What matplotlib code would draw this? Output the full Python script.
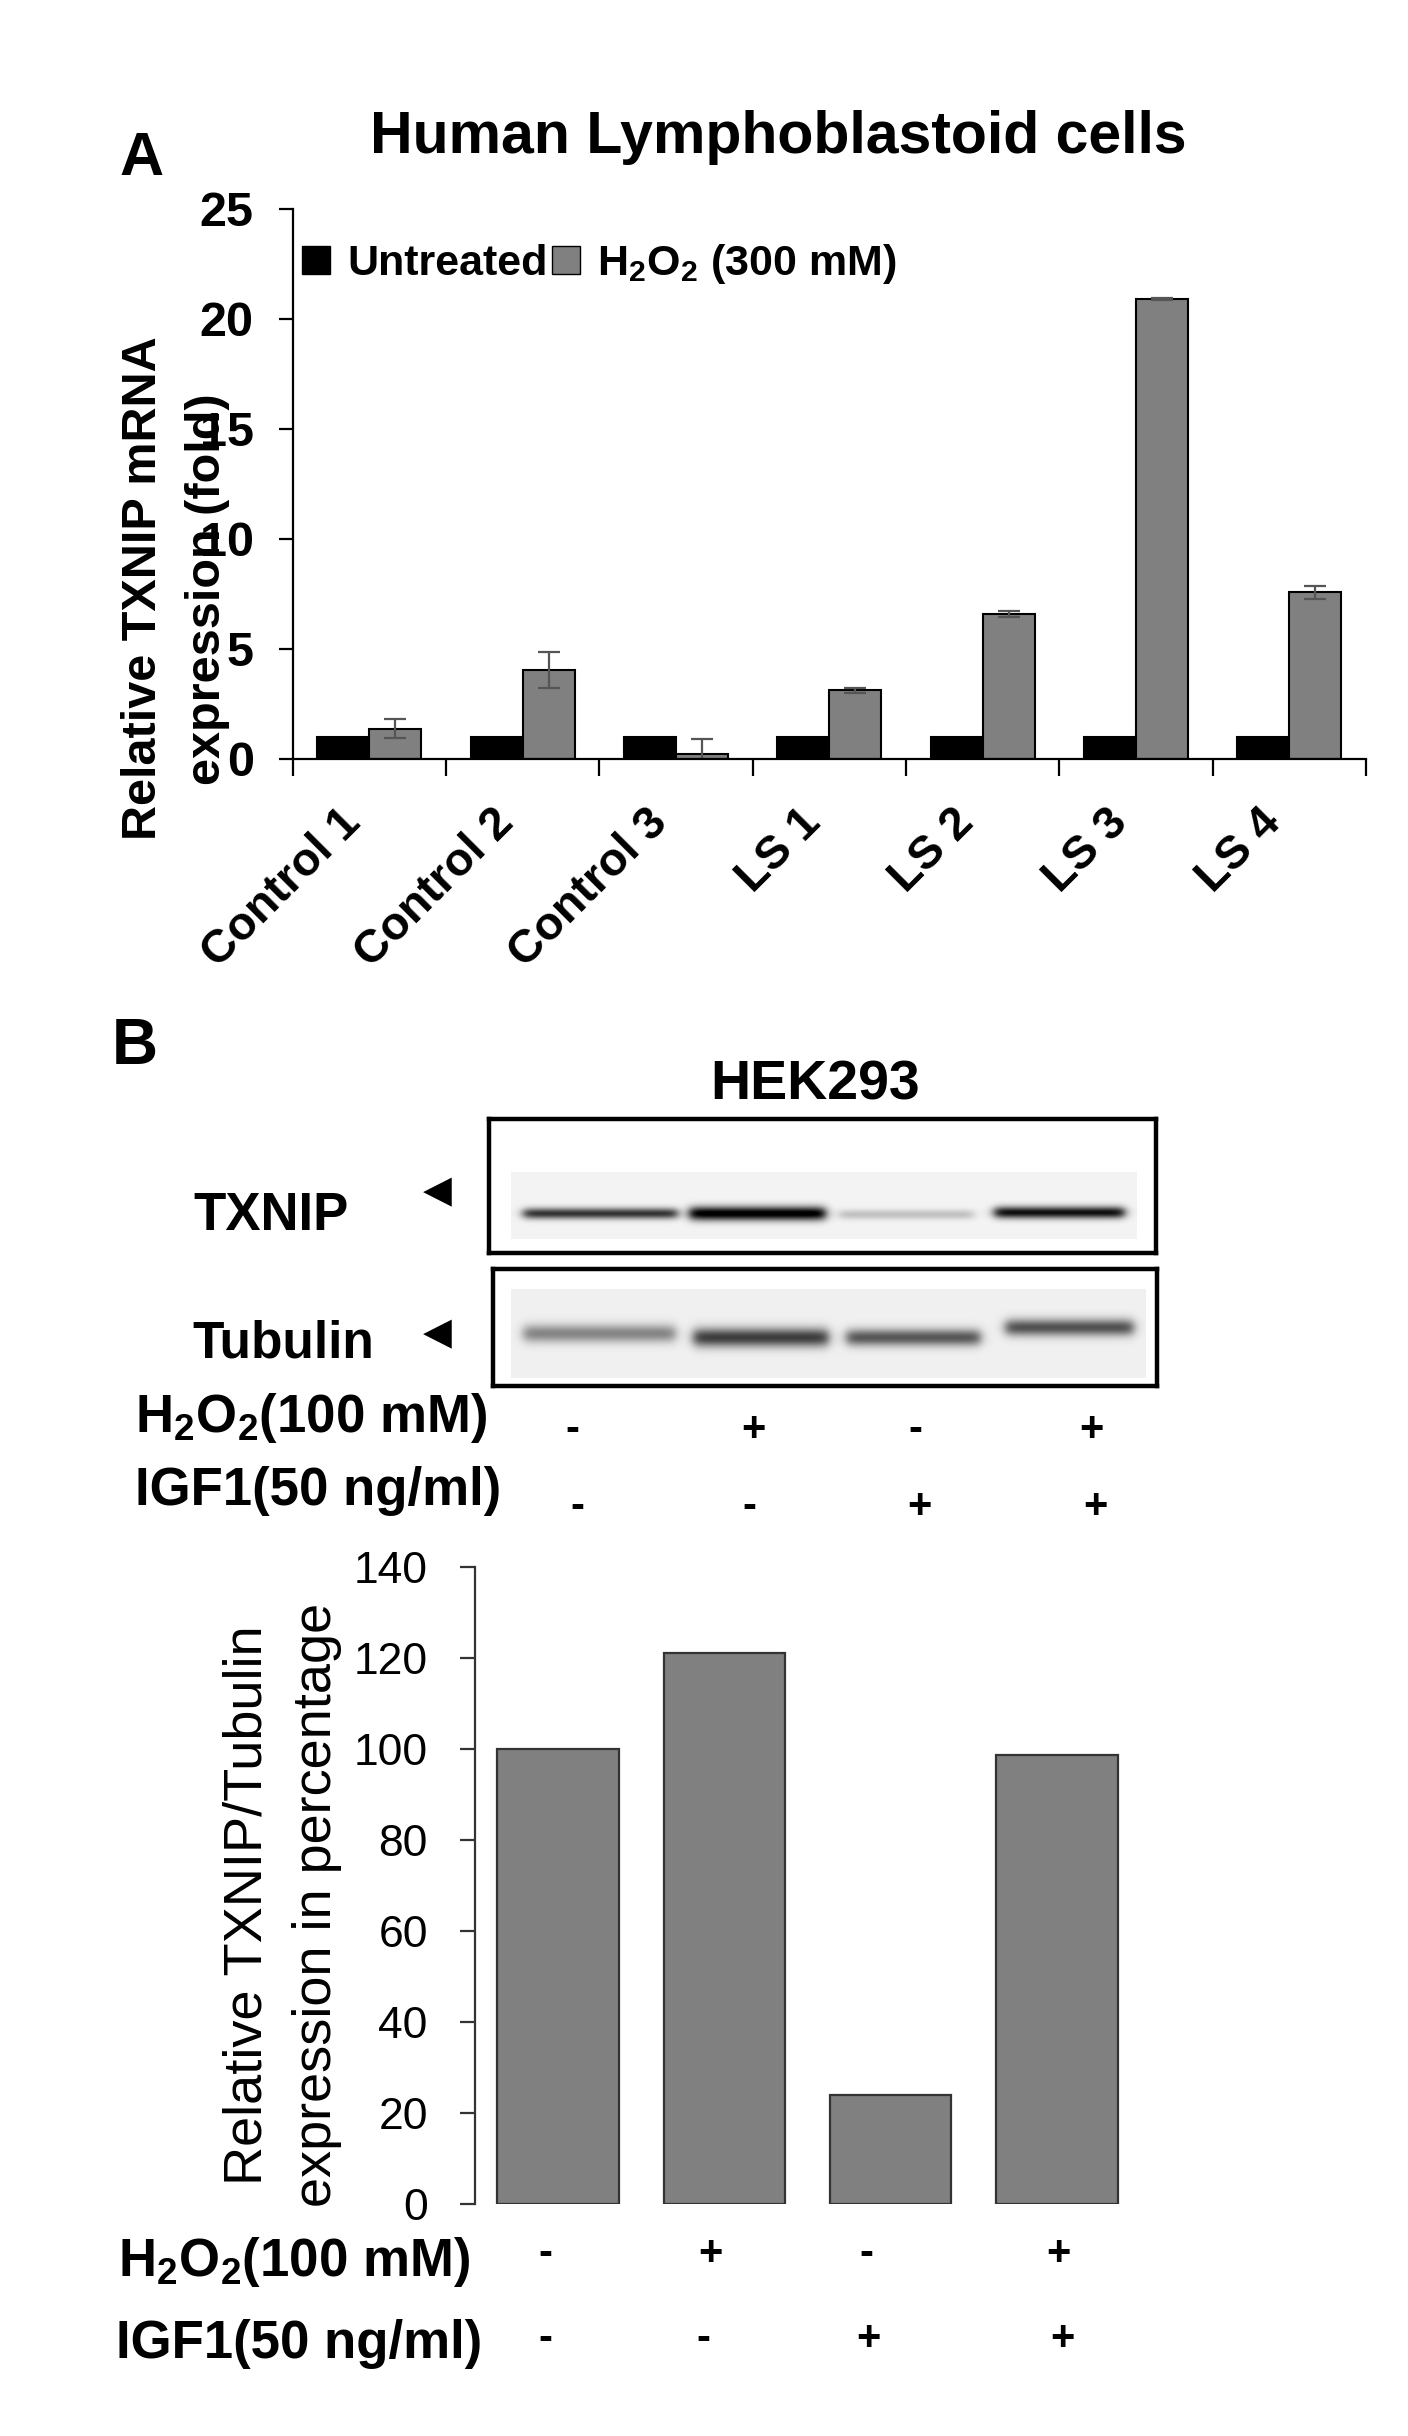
import numpy as np
import matplotlib
matplotlib.use("Agg")
import matplotlib.pyplot as plt
from matplotlib.patches import Patch
from matplotlib.transforms import ScaledTranslation

plt.rcParams['font.family'] = ['Liberation Sans', 'DejaVu Sans']
plt.rcParams['mathtext.fontset'] = 'custom'
plt.rcParams['mathtext.rm'] = 'Liberation Sans'
plt.rcParams['mathtext.bf'] = 'Liberation Sans:bold'
plt.rcParams['mathtext.it'] = 'Liberation Sans:italic'

# ---- panel A data ----
groups = ['Control 1', 'Control 2', 'Control 3', 'LS 1', 'LS 2', 'LS 3', 'LS 4']
untreated = [1, 1, 1, 1, 1, 1, 1]
h2o2 = [1.37, 4.05, 0.23, 3.12, 6.6, 20.9, 7.58]
h2o2_err = [0.43, 0.8, 0.7, 0.12, 0.15, 0.05, 0.3]

# ---- panel B data ----
h2o2_marks = ['-', '+', '-', '+']
igf1_marks = ['-', '-', '+', '+']
ratio_pct = [100, 121, 24, 98.6]
txnip_band = [0.75, 1.0, 0.2, 0.9]
tubulin_band = [0.42, 0.7, 0.6, 0.62]

W, H = 1408, 2436


def fx(x):
    return x / W


def fy(y):
    return 1 - y / H


fig = plt.figure(figsize=(W / 100, H / 100), dpi=100)

BOLD = dict(fontweight='bold')
H2O2_100 = r'$\mathbf{H_2O_2}$(100 mM)'
IGF1_50 = 'IGF1(50 ng/ml)'

# ================= panel A =================
ax = fig.add_axes([fx(292.7), fy(759), (1366 - 292.7) / W, 550 / H])
x = np.arange(len(groups)) + 0.5
ax.bar(x - 0.17, untreated, 0.34, color='black', edgecolor='black', lw=1.5)
ax.bar(x + 0.17, h2o2, 0.34, color='#808080', edgecolor='black', lw=1.5)
ax.errorbar(x + 0.17, h2o2, yerr=h2o2_err, fmt='none', ecolor='#555555',
            elinewidth=1.6, capsize=8, capthick=1.6)
ax.set_xlim(0, len(groups))
ax.set_ylim(0, 25)
ax.set_yticks(np.arange(0, 26, 5))
for s in ['top', 'right']:
    ax.spines[s].set_visible(False)
for s in ['left', 'bottom']:
    ax.spines[s].set_linewidth(1.6)
ax.set_xticks(np.arange(len(groups) + 1))
ax.set_xticklabels([])
ax.set_xticks(x, minor=True)
ax.set_xticklabels(groups, minor=True, rotation=45, ha='right', va='top',
                   fontsize=33.5, fontweight='bold')
shift = ScaledTranslation(0.36, 0, fig.dpi_scale_trans)
for t in ax.get_xticklabels(minor=True):
    t.set_transform(t.get_transform() + shift)
ax.tick_params(axis='x', which='major', length=12, width=1.6, direction='out')
ax.tick_params(axis='x', which='minor', length=0, pad=30)
ax.tick_params(axis='y', length=10, width=1.6, direction='out', pad=18,
               labelsize=35)
for t in ax.get_yticklabels():
    t.set_fontweight('bold')

handles = [Patch(fc='black', ec='black'), Patch(fc='#808080', ec='black')]
ax.legend(handles, ['Untreated', r'$\mathbf{H_2O_2}$ (300 mM)'], ncol=2,
          loc='upper left', bbox_to_anchor=(0.0087, 0.94), frameon=False,
          prop=dict(size=31, weight='bold'), handlelength=0.65, handleheight=0.65,
          handletextpad=0.4, columnspacing=0.1, borderpad=0, borderaxespad=0)

fig.text(fx(119), fy(175), 'A', fontsize=44, ha='left', va='baseline', **BOLD)
fig.text(fx(778), fy(153), 'Human Lymphoblastoid cells', fontsize=42.5,
         ha='center', va='baseline', **BOLD)
fig.text(fx(143), fy(588), 'Relative TXNIP mRNA', rotation=90, fontsize=35,
         ha='center', va='center', **BOLD)
fig.text(fx(208), fy(589), 'expression (fold)', rotation=90, fontsize=35,
         ha='center', va='center', **BOLD)

# ================= panel B: western blot =================
fig.text(fx(112), fy(1064), 'B', fontsize=46, ha='left', va='baseline', **BOLD)
fig.text(fx(815), fy(1100), 'HEK293', fontsize=40, ha='center', va='baseline', **BOLD)


def blot(box, lanes, band_y, band, sig, patch_y, patch_val):
    x0, y0, x1, y1 = box
    nx, ny = int(x1 - x0), int(y1 - y0)
    bax = fig.add_axes([fx(x0), fy(y1), (x1 - x0) / W, (y1 - y0) / H])
    xx, yy = np.meshgrid(np.arange(nx), np.arange(ny))
    img = np.ones((ny, nx))
    for (la, lb) in lanes:
        inside = (xx >= la - 12) & (xx <= lb + 12) & (yy >= patch_y[0]) & (yy <= patch_y[1])
        img[inside] = patch_val
    dark = np.zeros((ny, nx))
    for (la, lb), by, b, sg in zip(lanes, band_y, band, sig):
        hprof = 0.25 * (1 + np.tanh((xx - la) / 6)) * (1 + np.tanh((lb - xx) / 6))
        dark += b * hprof * np.exp(-((yy - by) / sg) ** 2)
    img = np.clip(img - dark, 0, 1)
    bax.imshow(img, cmap='gray', vmin=0, vmax=1, aspect='auto',
               extent=(0, nx, ny, 0), interpolation='bilinear')
    bax.set_xticks([])
    bax.set_yticks([])
    for s in bax.spines.values():
        s.set_linewidth(3.2)
    return bax


blot((489, 1119, 1156, 1253),
     [(34, 188), (200, 336), (350, 484), (505, 635)],
     [94, 94, 95, 93], txnip_band, [5.5, 7, 5, 6], (53, 119), 0.955)
blot((493, 1269, 1157, 1386),
     [(30, 182), (200, 335), (353, 487), (512, 640)],
     [64, 68, 68, 58], tubulin_band, [9, 9.5, 8.5, 8.5], (20, 108), 0.94)

fig.text(fx(193), fy(1230), 'TXNIP', fontsize=38, ha='left', va='baseline', **BOLD)
fig.text(fx(192), fy(1358), 'Tubulin', fontsize=37, ha='left', va='baseline', **BOLD)
for yc in [1192, 1334]:
    fig.text(fx(437), fy(yc), '\u25C0', fontsize=27, ha='center', va='center',
             family='DejaVu Sans')

fig.text(fx(135), fy(1432), H2O2_100, fontsize=38, ha='left', va='baseline', **BOLD)
fig.text(fx(135), fy(1505), IGF1_50, fontsize=38, ha='left', va='baseline', **BOLD)
for xm, m in zip([572, 753, 915, 1091], h2o2_marks):
    fig.text(fx(xm), fy(1430), m, fontsize=30, ha='center', va='center', **BOLD)
for xm, m in zip([577, 749, 919, 1095], igf1_marks):
    fig.text(fx(xm), fy(1507), m, fontsize=30, ha='center', va='center', **BOLD)

# ================= panel B: quantification =================
ax2 = fig.add_axes([fx(475), fy(2204), 665 / W, (2204 - 1567) / H])
ax2.bar(np.arange(len(ratio_pct)), ratio_pct, 0.73, color='#808080',
        edgecolor='#333333', lw=1.6)
ax2.set_xlim(-0.5, 3.5)
ax2.set_ylim(0, 140)
ax2.set_yticks(np.arange(0, 141, 20))
ax2.set_xticks([])
for s in ['top', 'right', 'bottom']:
    ax2.spines[s].set_visible(False)
ax2.spines['left'].set_linewidth(1.6)
ax2.spines['left'].set_color('#333333')
ax2.tick_params(axis='y', length=11, width=1.6, color='#333333', pad=23,
                labelsize=32)

fig.text(fx(247), fy(1905), 'Relative TXNIP/Tubulin', rotation=90, fontsize=39,
         ha='center', va='center')
fig.text(fx(317), fy(1905), 'expression in percentage', rotation=90, fontsize=39,
         ha='center', va='center')

fig.text(fx(118), fy(2276), H2O2_100, fontsize=38, ha='left', va='baseline', **BOLD)
fig.text(fx(116), fy(2358), IGF1_50, fontsize=38, ha='left', va='baseline', **BOLD)
for xm, m in zip([545, 710, 866, 1058], h2o2_marks):
    fig.text(fx(xm), fy(2254), m, fontsize=30, ha='center', va='center', **BOLD)
for xm, m in zip([545, 703, 868, 1062], igf1_marks):
    fig.text(fx(xm), fy(2339), m, fontsize=30, ha='center', va='center', **BOLD)

fig.savefig('out.png', dpi=100, facecolor='white')
